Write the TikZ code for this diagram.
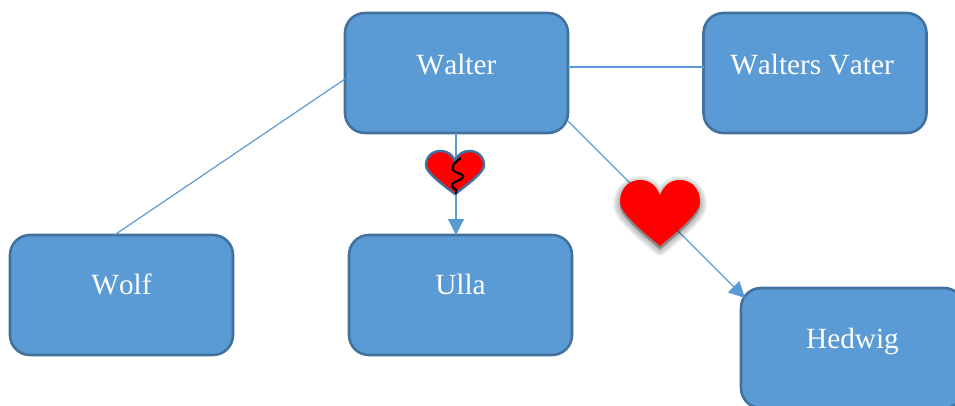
\documentclass[tikz,border=0pt]{standalone}
\usepackage{fontspec}
\setmainfont[Kerning=Off]{Liberation Serif}
\usetikzlibrary{arrows.meta,calc}
\definecolor{boxfill}{HTML}{5B9BD5}
\definecolor{boxline}{HTML}{41719C}
\newcommand{\heartpath}{(0,.23) .. controls (-.1,.07) and (-.28,0) .. (-.5,0) .. controls (-.78,0) and (-1,.13) .. (-1,.33) .. controls (-1,.46) and (-.7,.65) .. (0,1) .. controls (.7,.65) and (1,.46) .. (1,.33) .. controls (1,.13) and (.78,0) .. (.5,0) .. controls (.28,0) and (.1,.07) .. (0,.23) -- cycle}
\tikzset{
  person/.style={draw=boxline,fill=boxfill,line width=2.6pt,rounded corners=20pt,minimum width=223pt,minimum height=120pt,inner sep=0pt,outer sep=0pt,text=white,font=\fontsize{29.3}{32}\selectfont},
  link/.style={draw=boxfill,line width=1.2pt},
  linkarrow/.style={link,-{Triangle[length=16pt,width=16pt]}}
}
\begin{document}
\begin{tikzpicture}[x=1pt,y=-1pt]
\useasboundingbox (0,0) rectangle (955,406);
\clip (0,0) rectangle (955,406);
\node[person] (walter) at (456.5,73) {\raisebox{18pt}{Walter}};
\node[person] (vater) at (815,73) {\raisebox{18pt}{\hspace*{-6pt}Walters Vater}};
\node[person] (wolf) at (121.5,295) {\raisebox{21pt}{Wolf}};
\node[person] (ulla) at (460.5,295) {\raisebox{21pt}{Ulla}};
\node[person] (hedwig) at (852.5,348) {\raisebox{19pt}{Hedwig}};
\draw[link] ([yshift=6pt]walter.east) -- ([yshift=6pt]vater.west);
\draw[link] ([yshift=-6pt]walter.west) -- ([xshift=-7pt]wolf.north);
\draw[linkarrow] ([xshift=-.5pt]walter.south) -- ([xshift=-4.5pt]ulla.north);
\draw[linkarrow] ([yshift=-48pt]walter.east) -- ($(hedwig.north west)+(4pt,-10pt)$);
% broken heart
\begin{scope}[shift={(455,151)},x=29pt,y=-43pt]
\fill[red,draw=boxline,line width=2.4pt] \heartpath;
\end{scope}
\draw[black,line width=2.2pt,line join=round] (461,158) .. controls (455,162) and (451,166) .. (453,170) .. controls (455,174) and (464,173) .. (463,177) .. controls (462,181) and (451,181) .. (452,186) .. controls (453,189) and (458,188) .. (456,194);
% heart with shadow
\foreach \w in {14,12,10,8,6,4,2,0}{
\begin{scope}[shift={(660,183)},x=40pt,y=-66pt]
\fill[black,opacity=.045,draw=black,line width=\w pt,line join=round] \heartpath;
\end{scope}}
\begin{scope}[shift={(660,180)},x=40pt,y=-66pt]
\fill[red] \heartpath;
\end{scope}
\end{tikzpicture}
\end{document}
